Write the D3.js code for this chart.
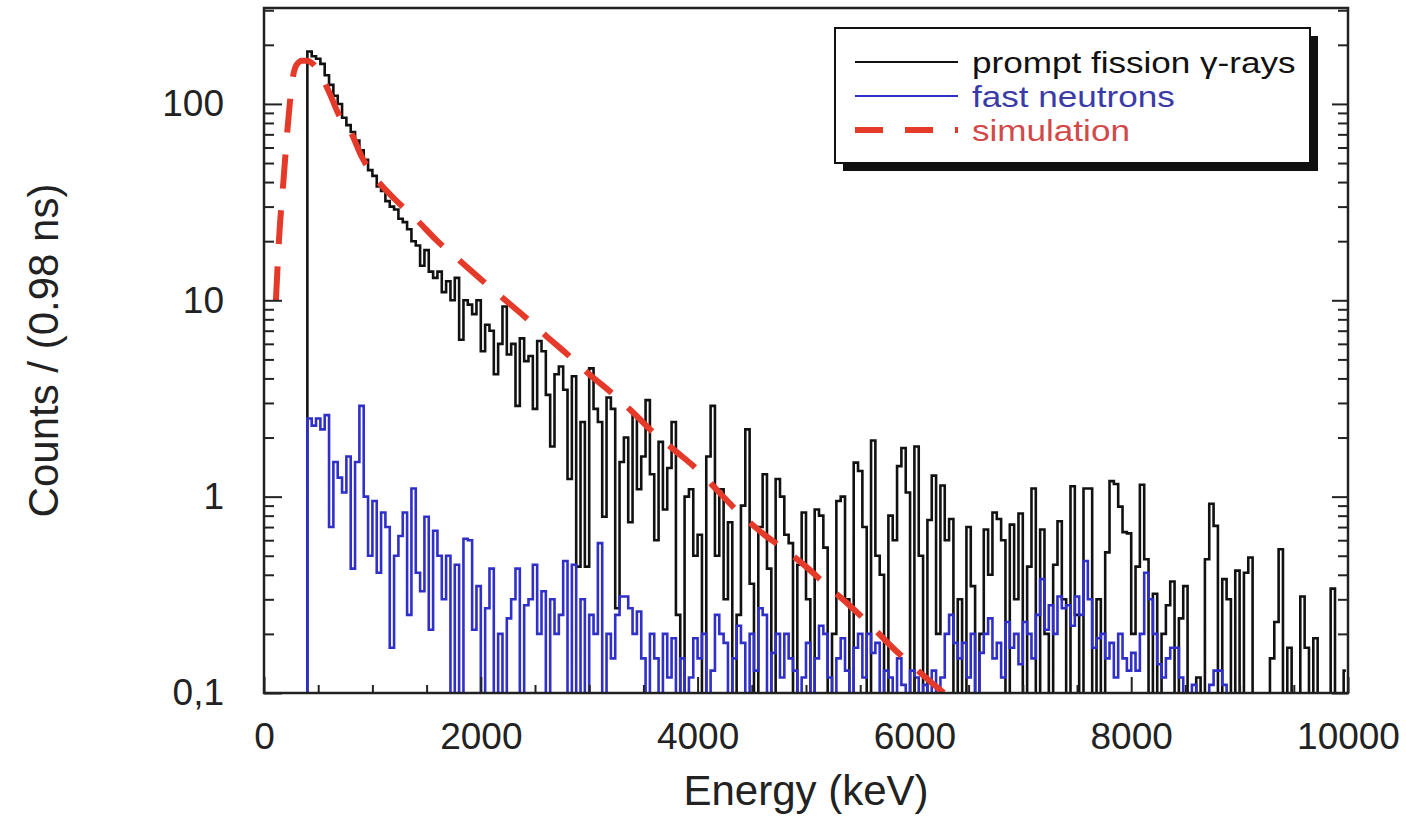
<!DOCTYPE html>
<html>
<head>
<meta charset="utf-8">
<script src="https://cdn.jsdelivr.net/npm/d3@7"></script>
<style>
  body { margin: 0; background: #fff; }
  svg { display: block; font-family: "Liberation Sans", Arial, sans-serif; }
</style>
</head>
<body>
<div id="chart"></div>
<script>
// histogram bins are 40 keV wide, starting at 0 keV
const binWidth = 40;

// prompt fission gamma-rays (counts per bin, 0 = empty bin)
const gammaCounts = [
  0,0,0,0,0,0,0,0,0,0,
  185,175,170,160,140,125,110,100,85,78,
  72,65,58,52,46,43,38,36,32,30,
  29,26,25,23,20,19,15,18,14,13,
  14,11,12.5,10,13,6.3,10,9.5,8.5,10,
  5.5,7.5,7,4.2,6,9.3,5.3,6,2.9,6.4,
  4.9,5.2,2.8,6.2,5.5,3.3,1.8,4.2,4.6,3.5,
  1.23,4.1,0.44,2.4,0.44,4.5,2.8,2.4,0.79,3.2,
  2.8,0.27,1.5,2.0,0.74,2.6,1.09,1.6,3.1,1.3,
  0.6,1.9,0.86,1.4,2.4,0.25,0,1.0,1.09,0.5,
  0.64,0,1.6,2.9,0.5,1.09,0.3,0.74,0,0.25,
  0.9,2.2,0.36,0,0.7,1.3,0.43,0,1.23,1.0,
  0.64,0.58,0,0.45,0.83,0.3,0,0.86,0.8,0.55,
  0,0.2,0.95,1.0,0.3,0,1.49,1.35,0.7,0,
  1.93,0.5,0.4,0,0.8,0.6,1.43,1.77,1.05,0,
  1.8,0.5,0,0.76,1.28,0.2,1.14,0.6,0.77,0,
  0.3,0,0.7,0.35,0,0.2,0.68,0.4,0.83,0.77,
  0.6,0,0.72,0.3,0.82,0,0.44,1.1,0,0.68,
  0.2,0,0.45,0.75,0.3,0,1.13,0.25,0,1.1,
  1.1,0,0.3,0,0.52,1.2,1.16,0.89,0.66,0.65,
  0.2,0.44,1.15,0.48,0,0.32,0,0.2,0.28,0.37,
  0,0.24,0.35,0,0,0.12,0,0.48,0.92,0.71,
  0,0.38,0.3,0,0.42,0,0.41,0.49,0,0,
  0,0,0.15,0.23,0.54,0,0.17,0,0,0.31,
  0.17,0,0.19,0,0,0,0.34,0,0,0.13
];

// fast neutrons
const neutronCounts = [
  0,0,0,0,0,0,0,0,0,0,
  2.5,2.3,2.5,2.2,2.6,0.7,1.5,1.25,1.05,1.6,
  0.43,1.5,2.9,1.0,0.5,0.95,0.41,0.83,0.7,0.17,
  0.5,0.63,0.83,0.25,1.1,0.41,0.33,0.79,0.21,0.67,
  0.5,0.3,0.5,0,0.45,0,0.61,0.6,0.21,0.35,
  0,0.27,0.43,0,0.2,0,0.24,0.3,0.43,0,
  0.28,0.3,0.45,0.2,0.33,0,0.3,0.2,0.25,0.47,
  0,0.45,0,0.3,0,0.25,0.2,0.58,0,0.2,
  0.15,0.25,0.31,0.31,0.27,0.2,0.26,0.15,0,0.2,
  0.15,0,0.2,0.12,0.19,0,0.15,0,0.12,0.19,
  0.15,0.2,0,0.13,0.25,0.2,0.18,0,0.15,0.22,
  0.18,0,0.2,0.13,0.27,0.25,0,0.16,0.2,0.12,
  0.2,0.15,0.13,0,0.12,0.18,0,0.15,0.22,0.2,
  0.12,0,0.15,0.19,0.13,0,0.17,0.2,0.12,0.2,
  0.16,0.18,0,0.13,0.12,0,0.15,0.11,0,0.13,
  0.12,0,0.11,0,0.13,0,0.12,0.2,0.25,0.18,
  0.15,0.18,0.12,0.2,0,0.16,0.2,0.24,0.15,0.18,
  0.12,0.23,0.17,0.2,0.14,0.23,0.2,0.15,0.25,0.38,
  0.21,0.28,0.2,0.31,0.27,0.28,0.22,0.31,0.25,0.47,
  0.3,0.17,0.19,0.2,0.15,0.18,0.12,0.2,0.15,0.13,
  0.16,0.13,0.2,0.41,0.3,0.2,0.14,0.12,0.15,0.17,
  0.17,0.12,0,0,0.11,0,0,0,0.11,0.13,
  0.13,0.11,0,0,0,0,0,0,0,0,
  0,0,0,0,0,0,0,0,0,0,
  0,0,0,0,0,0,0,0,0,0
];

// simulation curve
const simEnergy = [110,140,180,220,260,300,350,400,450,500,600,700,800,900,1000,1200,1400,1600,1800,2000,
  2200,2400,2600,2800,3000,3200,3400,3600,3800,4000,4200,4400,4600,4800,5000,5200,5400,5600,5800,6000,6200,6300];
const simCounts = [10,21,41,78,130,158,166,166,160,148,115,86,72,54,44,33,26,20,16,12.8,
  10.3,8.3,6.6,5.3,4.2,3.4,2.7,2.1,1.7,1.37,1.05,0.81,0.65,0.54,0.44,0.35,0.28,0.22,0.17,0.135,0.108,0.097];

const xMajor = [0, 2000, 4000, 6000, 8000, 10000];
const yMajor = [0.1, 1, 10, 100];
const yLabels = ["0,1", "1", "10", "100"];

const legendItems = [
  { label: "prompt fission \u03b3-rays", color: "#111", text: "#111", dash: null },
  { label: "fast neutrons", color: "#3030c8", text: "#3b3ba8", dash: null },
  { label: "simulation", color: "#e53a2a", text: "#d04a4a", dash: "28,22" }
];

const W = 1406, H = 816;
const margin = { top: 8, right: 58, bottom: 123, left: 264 };
const width = W - margin.left - margin.right;
const height = H - margin.top - margin.bottom;

const svg = d3.select("#chart").append("svg")
  .attr("width", W)
  .attr("height", H);

const g = svg.append("g")
  .attr("transform", "translate(" + margin.left + "," + margin.top + ")");

const x = d3.scaleLinear().domain([0, 10000]).range([0, width]);
const y = d3.scaleLog().domain([0.1, 308]).range([height, 0]);

g.append("clipPath").attr("id", "clip")
  .append("rect").attr("width", width).attr("height", height);

// empty bins drop below the axis floor
const floor = 0.03;
const toBins = counts => counts.map((c, i) => ({ e: i * binWidth + binWidth / 2, c: c > 0 ? c : floor }));

const histLine = d3.line()
  .x(d => x(d.e))
  .y(d => y(d.c))
  .curve(d3.curveStep);

const plot = g.append("g").attr("clip-path", "url(#clip)");

plot.append("path")
  .datum(toBins(gammaCounts))
  .attr("fill", "none")
  .attr("stroke", "#111")
  .attr("stroke-width", 2.6)
  .attr("d", histLine);

plot.append("path")
  .datum(toBins(neutronCounts))
  .attr("fill", "none")
  .attr("stroke", "#3030c8")
  .attr("stroke-width", 2.6)
  .attr("d", histLine);

const simLine = d3.line()
  .x(d => x(d[0]))
  .y(d => y(d[1]))
  .curve(d3.curveMonotoneX);

plot.append("path")
  .datum(simEnergy.map((e, i) => [e, simCounts[i]]))
  .attr("fill", "none")
  .attr("stroke", "#e53a2a")
  .attr("stroke-width", 6)
  .attr("stroke-dasharray", "34,22")
  .attr("d", simLine);

// axes
const xMinor = d3.range(500, 10000, 500).filter(v => v % 2000 !== 0);
const yMinor = [];
[0.1, 1, 10, 100].forEach(d => {
  for (let k = 2; k <= 9; k++) if (d * k < 308) yMinor.push(d * k);
});

const tickFont = sel => sel.selectAll("text")
  .attr("font-size", 37)
  .attr("fill", "#222")
  .attr("font-family", "Liberation Sans, Arial, sans-serif");

g.append("g")
  .attr("transform", "translate(0," + height + ")")
  .call(d3.axisBottom(x).tickValues(xMajor).tickSize(-16).tickPadding(30).tickFormat(d3.format("d")))
  .call(tickFont)
  .call(a => a.select(".domain").remove());

g.append("g")
  .attr("transform", "translate(0," + height + ")")
  .call(d3.axisBottom(x).tickValues(xMinor).tickSize(-8).tickFormat(""))
  .call(a => a.select(".domain").remove());

g.append("g")
  .call(d3.axisLeft(y).tickValues(yMajor).tickSize(-18).tickPadding(40).tickFormat((d, i) => yLabels[i]))
  .call(tickFont)
  .call(a => a.select(".domain").remove());

g.append("g")
  .call(d3.axisLeft(y).tickValues(yMinor).tickSize(-10).tickFormat(""))
  .call(a => a.select(".domain").remove());

g.append("g")
  .attr("transform", "translate(" + width + ",0)")
  .call(d3.axisRight(y).tickValues(yMajor).tickSize(-16).tickFormat(""))
  .call(a => a.select(".domain").remove());

g.append("g")
  .attr("transform", "translate(" + width + ",0)")
  .call(d3.axisRight(y).tickValues(yMinor).tickSize(-10).tickFormat(""))
  .call(a => a.select(".domain").remove());

g.selectAll(".tick line").attr("stroke", "#222").attr("stroke-width", 2);

// frame
g.append("rect")
  .attr("width", width)
  .attr("height", height)
  .attr("fill", "none")
  .attr("stroke", "#222")
  .attr("stroke-width", 2.5);

// axis titles
svg.append("text")
  .attr("x", margin.left + width / 2)
  .attr("y", 805)
  .attr("text-anchor", "middle")
  .attr("font-size", 42)
  .attr("fill", "#222")
  .text("Energy (keV)");

svg.append("text")
  .attr("transform", "translate(58," + (margin.top + height / 2) + ") rotate(-90)")
  .attr("text-anchor", "middle")
  .attr("font-size", 42)
  .attr("fill", "#222")
  .text("Counts / (0.98 ns)");

// legend
const lg = svg.append("g").attr("transform", "translate(835,28)");
lg.append("rect").attr("x", 8).attr("y", 8).attr("width", 475).attr("height", 135).attr("fill", "#111");
lg.append("rect").attr("width", 475).attr("height", 135).attr("fill", "#fff").attr("stroke", "#111").attr("stroke-width", 2);

legendItems.forEach((d, i) => {
  const row = lg.append("g").attr("transform", "translate(0," + (34 + i * 34) + ")");
  row.append("line")
    .attr("x1", 20).attr("x2", 123)
    .attr("stroke", d.color)
    .attr("stroke-width", d.dash ? 6 : 2)
    .attr("stroke-dasharray", d.dash);
  // the original lettering is slightly wider than it is tall
  row.append("text")
    .attr("transform", "translate(137,11) scale(1.17,1)")
    .attr("font-size", 30)
    .attr("fill", d.text)
    .text(d.label);
});
</script>
</body>
</html>
